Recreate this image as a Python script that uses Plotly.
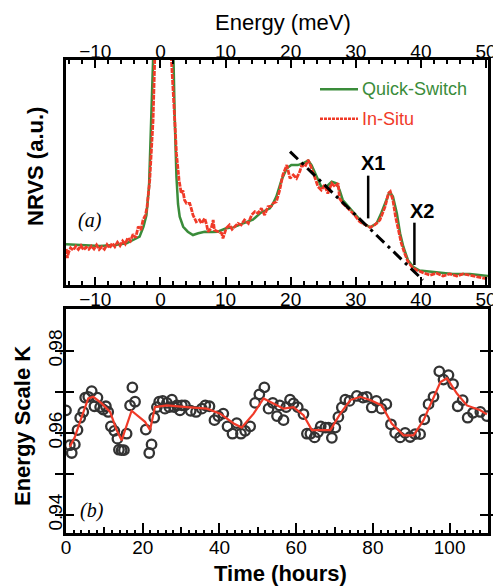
import plotly.graph_objects as go

# ---------------- Panel (a): NRVS spectra ----------------
energy_qs = [-14.5, -12.0, -9.3, -7.0, -5.2, -4.2, -3.2, -2.6, -2.15, -1.75, -1.38, -1.13, -0.6, 0.3, 1.3,
             1.94, 2.2, 2.46, 2.7, 2.96, 3.5, 4.2, 5.0, 5.8, 6.8, 8.0, 8.8, 10.1, 11.2, 12.7, 14.2, 15.3,
             16.3, 16.8, 17.3, 17.8, 18.6, 19.4, 20.1, 21.1, 21.9, 22.7, 23.2, 24.0, 24.7, 25.5, 26.3,
             27.0, 27.5, 28.0, 29.1, 30.1, 31.1, 32.2, 33.2, 33.9, 34.7, 35.2, 35.7, 36.3, 36.8, 37.3,
             38.0, 38.8, 39.8, 42.4, 44.9, 47.5, 49.8, 50.3]
nrvs_qs = [18.1, 17.8, 17.3, 17.8, 18.5, 20.0, 21.5, 26.0, 31.0, 43.7, 73.3, 100, 200, 300, 200,
           100, 73.3, 48.0, 36.0, 30.4, 25.9, 23.7, 22.2, 23.0, 23.7, 23.6, 23.7, 25.2, 25.6, 27.4, 29.0, 31.9,
           33.5, 34.1, 36.3, 39.3, 46.7, 51.9, 53.3, 53.3, 54.1, 55.3, 53.3, 48.1, 43.7, 43.7, 45.9,
           45.2, 42.2, 37.8, 34.1, 30.4, 27.4, 25.6, 27.4, 31.9, 37.8, 41.5, 39.3, 31.9, 23.0, 17.0,
           11.1, 8.1, 6.4, 5.5, 4.9, 4.9, 4.0, 4.0]

energy_is = [-14.45, -14.3, -14.1, -13.8, -13.4, -13.0, -12.6, -12.2, -11.8, -11.4, -11.0, -10.6, -10.2,
             -9.8, -9.4, -9.0, -8.6, -8.2, -7.8, -7.4, -7.0, -6.6, -6.2, -5.8, -5.4, -5.0, -4.6, -4.2,
             -3.8, -3.4, -3.0, -2.67, -2.3, -2.05, -1.64, -1.13, -0.88, -0.5, 0.3, 1.2, 1.69, 2.2, 2.46,
             2.86, 3.2, 3.45, 3.7, 4.0, 4.5, 4.8, 5.0, 5.5, 6.0, 6.3, 6.8, 7.1, 7.3, 7.8, 8.1, 8.3, 8.8,
             9.4, 9.6, 10.1, 10.6, 11.0, 11.4, 11.9, 12.4, 12.9, 13.5, 14.0, 14.5, 15.0, 15.5, 16.0,
             16.5, 17.0, 17.3, 17.8, 18.3, 18.8, 19.4, 19.6, 19.9, 20.4, 20.9, 21.4, 21.7, 22.2, 22.7,
             23.2, 23.7, 24.2, 24.7, 25.2, 25.7, 26.3, 26.8, 27.3, 27.5, 28.0, 28.8, 29.3, 29.8, 30.6,
             31.4, 32.2, 32.9, 33.7, 34.5, 35.0, 35.3, 35.7, 36.1, 36.5, 37.0, 37.5, 38.0, 38.6, 39.3,
             40.3, 41.4, 42.4, 43.4, 44.4, 45.5, 46.5, 47.5, 48.5, 49.8, 50.3]
nrvs_is = [16.0, 12.0, 14.5, 16.5, 15.5, 17.2, 15.8, 17.5, 15.6, 16.8, 15.9, 17.3, 16.0,
           17.8, 15.8, 17.0, 15.9, 18.0, 16.4, 18.6, 17.0, 19.0, 17.5, 19.6, 18.2, 21.0, 19.6, 22.5,
           21.0, 26.0, 24.5, 28.9, 31.0, 34.8, 46.7, 73.3, 100, 200, 300, 200, 100, 73.3, 58.5,
           46.7, 40.7, 42.0, 37.8, 36.3, 36.3, 33.3, 31.1, 28.1, 28.9, 27.4, 29.6, 26.7, 23.7, 25.2, 28.9, 24.4, 23.7,
           23.0, 20.7, 25.2, 26.7, 24.8, 25.9, 27.4, 26.7, 28.9, 27.4, 31.1, 32.6, 31.9, 34.1, 31.1,
           34.8, 35.0, 36.3, 37.0, 42.0, 48.9, 53.3, 50.4, 47.4, 48.9, 47.4, 50.4, 53.3, 52.6, 55.6,
           51.9, 47.4, 43.7, 42.2, 44.4, 40.7, 45.2, 43.7, 45.2, 38.5, 36.3, 34.1, 32.6, 31.1, 28.1,
           26.7, 25.6, 26.7, 28.9, 34.8, 40.7, 41.5, 37.8, 30.4, 24.4, 18.5, 14.1, 10.4, 8.1, 6.7,
           5.5, 4.4, 5.2, 4.0, 4.9, 4.0, 4.9, 4.3, 3.7, 3.0, 3.2]

fit_energy = [19.9, 40.3]
fit_nrvs = [59.3, 2.2]

energy_ticks = [-10, 0, 10, 20, 30, 40, 50]

# ---------------- Panel (b): energy scale K ----------------
time_h = [0, 1.0, 1.5, 2.3, 3.0, 3.7, 4.5, 5.0, 5.8, 6.7, 7.4, 8.2, 8.9, 9.7, 10.4, 11.0, 11.7, 12.6,
          13.4, 13.8, 14.5, 15.1, 15.8, 16.7, 17.3, 18.0, 20.8, 21.7, 22.3, 23.0, 23.7, 24.3, 25.2,
          25.8, 26.3, 26.9, 27.6, 28.2, 28.9, 29.7, 30.2, 31.0, 32.5, 33.9, 35.4, 36.3, 37.4, 38.7,
          39.7, 41.0, 42.1, 43.4, 44.5, 45.6, 46.7, 48.0, 49.3, 50.4, 51.7, 52.8, 53.9, 55.0, 55.7,
          56.7, 57.4, 58.4, 59.3, 60.4, 61.9, 62.8, 63.7, 64.8, 65.7, 66.4, 67.6, 68.4, 69.3, 70.2,
          71.0, 71.9, 72.8, 73.9, 75.8, 77.4, 78.4, 79.7, 80.9, 82.2, 83.5, 84.7, 85.8, 87.1, 88.4,
          89.7, 91.0, 92.3, 93.4, 94.5, 95.8, 97.3, 98.4, 99.7, 100.9, 102.1, 103.4, 104.7, 106.1,
          108.0, 109.7]
k_scale = [0.9655, 0.9570, 0.9551, 0.9572, 0.9607, 0.9637, 0.9651, 0.9686, 0.9688, 0.9702, 0.9665,
           0.9686, 0.9663, 0.9657, 0.9665, 0.9651, 0.9616, 0.9605, 0.9586, 0.9559, 0.9558, 0.9558,
           0.9598, 0.9667, 0.9711, 0.9676, 0.9608, 0.9551, 0.9572, 0.9637, 0.9663, 0.9676, 0.9678,
           0.9659, 0.9673, 0.9663, 0.9681, 0.9663, 0.9667, 0.9655, 0.9667, 0.9667, 0.9654, 0.9651,
           0.9659, 0.9667, 0.9665, 0.9631, 0.9641, 0.9647, 0.9616, 0.9598, 0.9624, 0.9598, 0.9605,
           0.9616, 0.9673, 0.9694, 0.9711, 0.9659, 0.9673, 0.9641, 0.9667, 0.9631, 0.9663, 0.9681,
           0.9672, 0.9663, 0.9646, 0.9598, 0.9598, 0.9589, 0.9602, 0.9616, 0.9613, 0.9613, 0.9588,
           0.9613, 0.9639, 0.9662, 0.9681, 0.9678, 0.9690, 0.9686, 0.9688, 0.9662, 0.9678, 0.9659,
           0.9670, 0.9621, 0.9600, 0.9589, 0.9600, 0.9590, 0.9597, 0.9597, 0.9633, 0.9670, 0.9688,
           0.9750, 0.9730, 0.9741, 0.9719, 0.9665, 0.9680, 0.9637, 0.9649, 0.9651, 0.9641]

smooth_t = [1.0, 2.3, 4.1, 5.8, 7.1, 9.3, 11.5, 13.2, 14.5, 17.1, 20.6, 21.9, 23.2, 26.3, 31.5, 36.7,
            40.2, 43.7, 45.8, 48.9, 51.5, 54.1, 56.7, 59.3, 61.9, 64.1, 66.3, 68.9, 71.5, 74.1, 76.7,
            79.3, 82.3, 84.9, 88.0, 90.6, 93.2, 95.8, 97.6, 99.3, 101.9, 104.5, 108.0, 109.7]
smooth_k = [0.9566, 0.9590, 0.9639, 0.9684, 0.9688, 0.9672, 0.9651, 0.9607, 0.9582, 0.9654, 0.9627,
            0.9607, 0.9663, 0.9667, 0.9663, 0.9659, 0.9647, 0.9623, 0.9613, 0.9647, 0.9684, 0.9672,
            0.9659, 0.9663, 0.9643, 0.9607, 0.9607, 0.9607, 0.9647, 0.9680, 0.9688, 0.9680, 0.9667,
            0.9623, 0.9594, 0.9594, 0.9631, 0.9688, 0.9724, 0.9733, 0.9696, 0.9667, 0.9655, 0.9645]

k_tickvals = [0.94, 0.95, 0.96, 0.97, 0.98]
k_ticktext = ["0.94", "", "0.96", "", "0.98"]
time_tickvals = [0, 10, 20, 30, 40, 50, 60, 70, 80, 90, 100, 110]
time_ticktext = ["0", "", "20", "", "40", "", "60", "", "80", "", "100", ""]

GREEN = "#3a8c3a"
RED = "#f03a28"
FONT = "Liberation Sans, Arial, sans-serif"

W, H = 493, 586
L, R, T, B = 66, 5, 0, 0


def px_x(px):
    return (px - L) / (W - L - R)


def px_y(py):
    return (H - py) / H


fig = go.Figure()

fig.add_trace(go.Scatter(x=energy_qs, y=nrvs_qs, mode="lines", line=dict(color=GREEN, width=2.5),
                         xaxis="x", yaxis="y", showlegend=False, hoverinfo="skip"))
fig.add_trace(go.Scatter(x=energy_is, y=nrvs_is, mode="lines",
                         line=dict(color=RED, width=2.8, dash="5px,1px"),
                         xaxis="x", yaxis="y", showlegend=False, hoverinfo="skip"))
fig.add_trace(go.Scatter(x=fit_energy, y=fit_nrvs, mode="lines",
                         line=dict(color="black", width=3, dash="11px,5px,3px,5px"),
                         xaxis="x", yaxis="y", showlegend=False, hoverinfo="skip"))
fig.add_trace(go.Scatter(x=[None], y=[None], xaxis="x3", yaxis="y", showlegend=False, hoverinfo="skip"))

fig.add_trace(go.Scatter(x=time_h, y=k_scale, mode="markers",
                         marker=dict(symbol="circle-open", size=9.5, color="#333333", line=dict(width=2.3)),
                         xaxis="x2", yaxis="y2", showlegend=False, hoverinfo="skip"))
fig.add_trace(go.Scatter(x=smooth_t, y=smooth_k, mode="lines", line=dict(color=RED, width=2.2),
                         xaxis="x2", yaxis="y2", showlegend=False, hoverinfo="skip"))
fig.add_trace(go.Scatter(x=[None], y=[None], xaxis="x4", yaxis="y2", showlegend=False, hoverinfo="skip"))

axis_common = dict(showgrid=False, zeroline=False, showline=True, linecolor="black", linewidth=2.5,
                   tickcolor="black", automargin=False,
                   tickfont=dict(family=FONT, size=19, color="black"))

top_dom = [px_y(285), px_y(60)]
bot_dom = [px_y(533), px_y(309)]

fig.update_layout(
    width=W, height=H,
    margin=dict(l=L, r=R, t=T, b=B, autoexpand=False),
    paper_bgcolor="white", plot_bgcolor="white",
    xaxis=dict(axis_common, domain=[0, 1], anchor="y", range=[-14.5, 50.3], side="bottom",
               tickvals=energy_ticks, ticks="inside", ticklen=8, tickwidth=2, ticklabelstandoff=-5,
               ticklabeloverflow="allow",
               minor=dict(dtick=2, tick0=0, ticks="inside", ticklen=4, tickwidth=1.5, tickcolor="black")),
    xaxis3=dict(axis_common, overlaying="x", anchor="y", side="top", range=[-14.5, 50.3],
                tickvals=energy_ticks, ticks="inside", ticklen=8, tickwidth=2, ticklabelstandoff=-8,
                ticklabeloverflow="allow",
                minor=dict(dtick=2, tick0=0, ticks="inside", ticklen=4, tickwidth=1.5, tickcolor="black")),
    yaxis=dict(axis_common, domain=top_dom, anchor="x", range=[0, 100], showticklabels=False,
               ticks="", mirror=True),
    xaxis2=dict(axis_common, domain=[0, 1], anchor="y2", range=[0, 110], tickvals=time_tickvals,
                ticktext=time_ticktext, ticks="inside", ticklen=6, tickwidth=2, mirror=True,
                ticklabelstandoff=-5,
                minor=dict(dtick=2, tick0=0, ticks="inside", ticklen=3.5, tickwidth=1.5, tickcolor="black")),
    xaxis4=dict(overlaying="x2", anchor="y2", range=[0, 110], dtick=20, tick0=0, ticks="inside",
                ticklen=10, tickwidth=2, tickcolor="black", showticklabels=False, showline=False,
                showgrid=False, zeroline=False),
    yaxis2=dict(axis_common, domain=bot_dom, anchor="x2", range=[0.9356, 0.9902], tickvals=k_tickvals,
                ticktext=k_ticktext, tickangle=-90, ticks="inside", ticklen=8, tickwidth=2,
                ticklabelstandoff=-6, mirror="allticks"),
)


def note(text, x, y, size, ref="paper", angle=0, family=FONT, color="black", xanchor="center"):
    return dict(text=text, x=x, y=y, xref=ref if ref == "paper" else "x",
                yref=ref if ref == "paper" else "y", textangle=angle, showarrow=False,
                xanchor=xanchor, yanchor="middle", font=dict(family=family, size=size, color=color))


SERIF = "Liberation Serif, DejaVu Serif, serif"
ann = [
    note("Energy (meV)", px_x(283), px_y(22), 22),
    note("<b>NRVS (a.u.)</b>", px_x(35), px_y(167), 22, angle=-90),
    note("<b>Energy Scale K</b>", px_x(23), px_y(426), 22, angle=-90),
    note("<b>Time (hours)</b>", px_x(280), px_y(573), 22),
    note("<i>(a)</i>", px_x(90), px_y(220), 20, family=SERIF),
    note("<i>(b)</i>", px_x(92), px_y(510), 20, family=SERIF),
    note("<b>X1</b>", 32.6, 54.2, 20, ref="data"),
    note("<b>X2</b>", 40.1, 33.0, 20, ref="data"),
    note("Quick-Switch", px_x(360), px_y(89.3), 18, color=GREEN, xanchor="left"),
    note("In-Situ", px_x(360), px_y(118.7), 18, color=RED, xanchor="left"),
]
fig.update_layout(annotations=ann)

shapes = []
shapes.append(dict(type="line", xref="x", yref="y", x0=31.9, x1=31.9, y0=29.6, y1=48.6,
                   line=dict(color="black", width=2.5)))
shapes.append(dict(type="line", xref="x", yref="y", x0=39.0, x1=39.0, y0=8.9, y1=27.7,
                   line=dict(color="black", width=2.5)))
shapes.append(dict(type="line", xref="paper", yref="paper", x0=px_x(320), x1=px_x(358),
                   y0=px_y(89.3), y1=px_y(89.3), line=dict(color=GREEN, width=2.5)))
shapes.append(dict(type="line", xref="paper", yref="paper", x0=px_x(320), x1=px_x(358),
                   y0=px_y(118.7), y1=px_y(118.7), line=dict(color=RED, width=2.5, dash="3px,1px")))
fig.update_layout(shapes=shapes)

fig.write_html("out.html", config={"displayModeBar": False},
               post_script="document.body.style.margin='0px';")
